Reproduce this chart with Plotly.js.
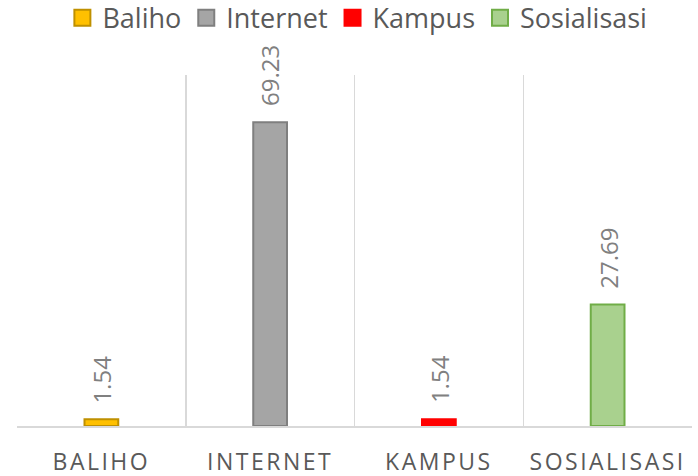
<!DOCTYPE html>
<html>
<head>
<meta charset="utf-8">
<script src="https://cdn.plot.ly/plotly-3.0.1.min.js"></script>
<style>
html,body{margin:0;padding:0;background:#fff;}
#chart{width:698px;height:476px;}
.xtick text{letter-spacing:2.5px;}
</style>
</head>
<body>
<div id="chart"></div>
<script>
var categories = ["BALIHO", "INTERNET", "KAMPUS", "SOSIALISASI"];
var seriesNames = ["Baliho", "Internet", "Kampus", "Sosialisasi"];
var values = [1.54, 69.23, 1.54, 27.69];
var fillColors = ["#FFC000", "#A5A5A5", "#FF0000", "#A9D18E"];
var lineColors = ["#BF9000", "#7F7F7F", "#FF0000", "#70AD47"];

var FONT = "Open Sans, Noto Sans, sans-serif";

var traces = seriesNames.map(function(name, i){
  return {
    type: "bar",
    name: name,
    x: [categories[i]],
    y: [values[i]],
    width: 0.2,
    marker: {color: fillColors[i], line: {color: lineColors[i], width: 2}},
    hoverinfo: "none"
  };
});

var annotations = values.map(function(v, i){
  return {
    x: categories[i], y: v, xref: "x", yref: "y",
    text: v.toFixed(2),
    textangle: -90,
    showarrow: false,
    xanchor: "center", yanchor: "bottom",
    yshift: 14,
    font: {family: FONT, size: 24, color: "#808080"}
  };
});

var layout = {
  width: 698, height: 476,
  margin: {l: 17, r: 6, t: 75, b: 50},
  paper_bgcolor: "#fff", plot_bgcolor: "#fff",
  barmode: "overlay",
  showlegend: true,
  legend: {
    orientation: "h", x: 0.512, xanchor: "center", xref: "container",
    y: 0.962, yanchor: "middle", yref: "container",
    font: {family: FONT, size: 27, color: "#595959"},
    traceorder: "normal", itemclick: false, itemdoubleclick: false
  },
  xaxis: {
    type: "category",
    categoryorder: "array", categoryarray: categories,
    range: [-0.5, 3.5],
    tickson: "boundaries",
    showgrid: true, gridcolor: "#D9D9D9", gridwidth: 1.5,
    showline: true, linecolor: "#D9D9D9", linewidth: 1.5,
    ticks: "", ticklabelstandoff: 15,
    tickfont: {family: FONT, size: 23, color: "#595959"},
    zeroline: false, fixedrange: true
  },
  yaxis: {
    range: [0, 80],
    showgrid: false, zeroline: false, showline: false,
    showticklabels: false, ticks: "", fixedrange: true
  },
  annotations: annotations
};

Plotly.newPlot("chart", traces, layout, {displayModeBar: false, staticPlot: true}).then(function(gd){
  var paths = gd.querySelectorAll(".legend .legendpoints path");
  paths.forEach(function(p){ p.setAttribute("d", "M8,8H-8V-8H8Z"); });
});
</script>
</body>
</html>
